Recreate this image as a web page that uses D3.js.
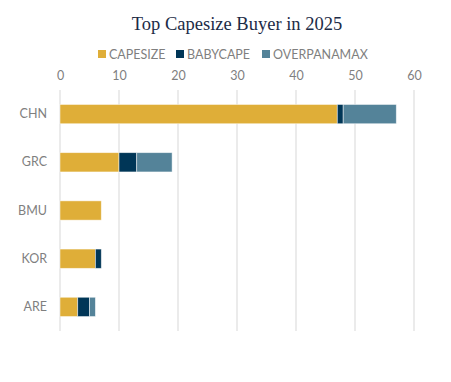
<!DOCTYPE html>
<html><head><meta charset="utf-8">
<script src="https://cdn.jsdelivr.net/npm/d3@7"></script>
<style>body{margin:0;background:#fff}svg{display:block}</style>
</head><body>
<script>
const categories = ["CHN","GRC","BMU","KOR","ARE"];
const seriesNames = ["CAPESIZE","BABYCAPE","OVERPANAMAX"];
const capesize = [47,10,7,6,3];
const babycape = [1,3,0,1,2];
const overpanamax = [9,6,0,0,1];
const colors = ["#dfae38","#003657","#548399"];
const xTicks = [0,10,20,30,40,50,60];

const W=451,H=382;
const m={left:60,right:37,top:90,bottom:51};
const svg=d3.select("body").append("svg").attr("width",W).attr("height",H);
const x=d3.scaleLinear().domain([0,60]).range([m.left,W-m.right]);
const y=d3.scaleBand().domain(categories).range([m.top,H-m.bottom]).paddingInner(0.6).paddingOuter(0.3);

svg.append("text").attr("x",237).attr("y",30).attr("text-anchor","middle")
  .attr("font-family","'Liberation Serif','DejaVu Serif',serif").attr("font-size",18.5)
  .attr("fill","#1c2b46").text("Top Capesize Buyer in 2025");

// grid
svg.append("g").selectAll("line").data(xTicks).join("line")
  .attr("x1",d=>x(d)).attr("x2",d=>x(d)).attr("y1",m.top).attr("y2",H-m.bottom)
  .attr("stroke","#e0e0e0").attr("stroke-width",1.3);

// top axis labels
const ax=svg.append("g").attr("transform",`translate(0,${m.top-10})`)
  .call(d3.axisTop(x).tickValues(xTicks).tickSize(0).tickPadding(0));
ax.select(".domain").remove();
ax.selectAll("text").attr("font-family","Lato,sans-serif").attr("font-size",12.5).attr("fill","#7f7f7f");

const data=categories.map((c,i)=>({cat:c,CAPESIZE:capesize[i],BABYCAPE:babycape[i],OVERPANAMAX:overpanamax[i]}));
const stacked=d3.stack().keys(seriesNames)(data);
svg.append("g").selectAll("g").data(stacked).join("g").attr("fill",(d,i)=>colors[i])
  .selectAll("rect").data(d=>d.filter(v=>v[1]-v[0]>0)).join("rect")
  .attr("x",d=>x(d[0])).attr("width",d=>x(d[1])-x(d[0]))
  .attr("y",d=>y(d.data.cat)).attr("height",y.bandwidth())
  .attr("stroke","#ffffff").attr("stroke-opacity",0.6).attr("stroke-width",0.8);

// y labels
const ay=svg.append("g").attr("transform",`translate(${m.left-13},0)`)
  .call(d3.axisLeft(y).tickSize(0).tickPadding(0));
ay.select(".domain").remove();
ay.selectAll("text").attr("font-family","Lato,sans-serif").attr("font-size",12.5).attr("fill","#7f7f7f");

// legend
const legX=[98,176,262];
const lg=svg.append("g");
seriesNames.forEach((s,i)=>{
  lg.append("rect").attr("x",legX[i]).attr("y",50).attr("width",8).attr("height",8).attr("fill",colors[i]);
  lg.append("text").attr("x",legX[i]+11).attr("y",58.5).attr("font-family","Lato,sans-serif")
    .attr("font-size",12.5).attr("fill","#7f7f7f").text(s);
});
</script>
</body></html>
